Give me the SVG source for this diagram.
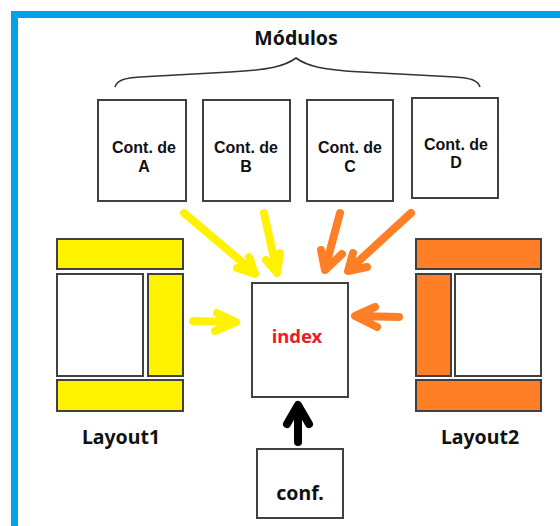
<svg xmlns="http://www.w3.org/2000/svg" width="560" height="526" viewBox="0 0 560 526">
<style>
.box{fill:#fff;stroke:#404040;stroke-width:2}
.yel{fill:#FFF200;stroke:#404040;stroke-width:2}
.org{fill:#FF7F27;stroke:#404040;stroke-width:2}
.cont{font-family:"Liberation Sans",Arial,sans-serif;font-weight:bold;font-size:16px;fill:#111;text-anchor:middle}
.lbl{font-family:"Noto Sans","Open Sans",sans-serif;font-weight:bold;font-size:19.5px;fill:#111;text-anchor:middle}
.arr{fill:none;stroke-width:8;stroke-linecap:round;stroke-linejoin:round}
</style>
<rect x="0" y="0" width="560" height="526" fill="#fff"/>
<rect id="frame" x="14.5" y="14.5" width="620" height="620" fill="none" stroke="#00A2E8" stroke-width="7"/>
<g id="title">
<text class="lbl" x="296" y="45">Módulos</text>
<path d="M115,87 C117,80 125,78 140,77 L230,72 C270,70 285,66 296,58 C307,66 322,70 362,72 L455,77 C470,78 478,80 480,87" fill="none" stroke="#333" stroke-width="1.6"/>
</g>
<g id="modA">
<rect class="box" x="98" y="100" width="88" height="101"/>
<text class="cont" x="144" y="153">Cont. de</text>
<text class="cont" x="144" y="172">A</text>
</g>
<g id="modB">
<rect class="box" x="203" y="100" width="87" height="101"/>
<text class="cont" x="246" y="153">Cont. de</text>
<text class="cont" x="246" y="172">B</text>
</g>
<g id="modC">
<rect class="box" x="307" y="100" width="86" height="101"/>
<text class="cont" x="350" y="153">Cont. de</text>
<text class="cont" x="350" y="172">C</text>
</g>
<g id="modD">
<rect class="box" x="412" y="98" width="86" height="100"/>
<text class="cont" x="456" y="150">Cont. de</text>
<text class="cont" x="456" y="168">D</text>
</g>
<g id="layout1">
<rect class="yel" x="57" y="239" width="126" height="30"/>
<rect class="box" x="57" y="274" width="86" height="102"/>
<rect class="yel" x="148" y="274" width="35" height="102"/>
<rect class="yel" x="57" y="380" width="126" height="31"/>
<text class="lbl" x="121" y="444">Layout1</text>
</g>
<g id="layout2">
<rect class="org" x="416" y="239" width="125" height="30"/>
<rect class="org" x="416" y="274" width="35" height="102"/>
<rect class="box" x="455" y="274" width="86" height="102"/>
<rect class="org" x="416" y="380" width="125" height="31"/>
<text class="lbl" x="480" y="444">Layout2</text>
</g>
<g id="index">
<rect class="box" x="252" y="283" width="96" height="114"/>
<text x="297" y="343" font-family="'Noto Sans','Open Sans',sans-serif" font-weight="bold" font-size="18.5px" fill="#ED1C24" text-anchor="middle">index</text>
</g>
<g id="conf">
<rect class="box" x="257" y="449" width="86" height="69"/>
<text class="lbl" x="300" y="500">conf.</text>
</g>
<g id="connectors">
<path class="arr" stroke="#FFF200" d="M184,213 L255,273 M237,268 L255,274 L249,257"/>
<path class="arr" stroke="#FFF200" d="M264,213 L277,272 M266,260 L277,273 L280,253"/>
<path class="arr" stroke="#FFF200" d="M193,321 L235,322 M217,313 L236,322 L215,331"/>
<path class="arr" stroke="#FF7F27" d="M340,213 L325,269 M321,250 L325,270 L342,254"/>
<path class="arr" stroke="#FF7F27" d="M411,213 L349,270 M353,253 L348,271 L367,267"/>
<path class="arr" stroke="#FF7F27" d="M399,317 L356,316 M375,307 L355,316 L377,327"/>
<path class="arr" stroke="#000" d="M298,442 L298,406 M287,424 L298,405 L309,424"/>
</g>
</svg>
